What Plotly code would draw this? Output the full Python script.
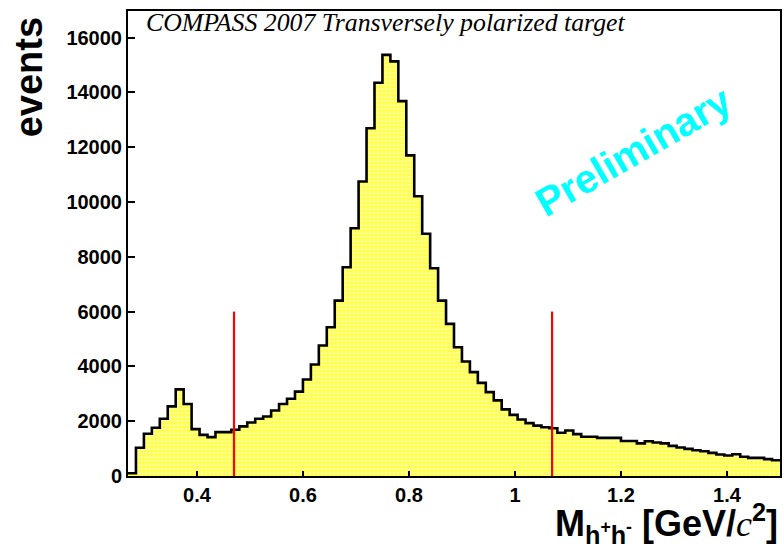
import plotly.graph_objects as go

# Invariant mass histogram of h+h- pairs, 82 bins of 0.015 GeV/c^2 from 0.27 to 1.5
bin_low = 0.27
bin_width = 0.015
counts = [
    100, 1030, 1540, 1760, 2090, 2540, 3160, 2630, 1710, 1500,
    1420, 1600, 1600, 1690, 1810, 1950, 2090, 2170, 2390, 2630,
    2820, 3080, 3520, 4070, 4760, 5430, 6400, 7620, 9040, 10750,
    12690, 14350, 15370, 15130, 13680, 11700, 10210, 8840, 7580, 6400,
    5550, 4700, 4180, 3790, 3400, 3060, 2760, 2430, 2230, 2060,
    1930, 1840, 1780, 1740, 1580, 1660, 1530, 1430, 1430, 1390,
    1390, 1390, 1280, 1280, 1190, 1270, 1220, 1190, 1100, 1040,
    990, 940, 905, 845, 785, 750, 795, 700, 660, 660,
    615, 575,
]
# Mass window cut lines (rho mass +- 0.3)
cut_positions = [0.47, 1.07]
cut_height = 6000

x_ticks = [0.4, 0.6, 0.8, 1.0, 1.2, 1.4]
x_tick_text = ["0.4", "0.6", "0.8", "1", "1.2", "1.4"]
y_ticks = [0, 2000, 4000, 6000, 8000, 10000, 12000, 14000, 16000]
y_tick_text = ["0", "2000", "4000", "6000", "8000", "10000", "12000", "14000", "16000"]

edges = [bin_low + i * bin_width for i in range(len(counts) + 1)]
step_x = edges
step_y = counts + [counts[-1]]

fig = go.Figure()
fig.add_trace(go.Scatter(
    x=step_x, y=step_y, mode="lines",
    line=dict(shape="hv", color="black", width=2.6),
    fill="tozeroy",
    fillcolor="#ffff66",
    fillpattern=dict(shape=".", bgcolor="#ffff44", fgcolor="#ffffff",
                     size=4, solidity=0.45),
    hoverinfo="skip", showlegend=False,
))
for xc in cut_positions:
    fig.add_trace(go.Scatter(
        x=[xc, xc], y=[0, cut_height], mode="lines",
        line=dict(color="#ff0000", width=2.2),
        hoverinfo="skip", showlegend=False,
    ))

tick_font = dict(family="Liberation Sans", size=20, color="black", weight="bold")
fig.update_xaxes(
    range=[0.27, 1.5], tickvals=x_ticks, ticktext=x_tick_text,
    ticks="inside", ticklen=5, tickwidth=1.5, tickcolor="black",
    showline=True, linecolor="black", linewidth=2, mirror=True,
    showgrid=False, zeroline=False, tickfont=tick_font,
)
fig.update_yaxes(
    range=[0, 16970], tickvals=y_ticks, ticktext=y_tick_text,
    ticks="inside", ticklen=7, tickwidth=1.5, tickcolor="black",
    showline=True, linecolor="black", linewidth=2, mirror=True,
    showgrid=False, zeroline=False, tickfont=tick_font,
)

W, H = 784, 550
L, R, T, B = 128, 2, 11, 74
pw, ph = W - L - R, H - T - B


def px(xp):
    return (xp - L) / pw


def py(yp):
    return (H - B - yp) / ph


annotations = [
    dict(text="COMPASS 2007 Transversely polarized target",
         x=px(144), y=py(23), xref="paper", yref="paper",
         xanchor="left", yanchor="middle", showarrow=False,
         font=dict(family="Liberation Serif", size=25.8, style="italic", color="black")),
    dict(text="<b>Preliminary</b>",
         x=px(635), y=py(151), xref="paper", yref="paper",
         xanchor="center", yanchor="middle", showarrow=False, textangle=-30,
         font=dict(family="Liberation Sans", size=40, color="#00ffff")),
    dict(text="<b>events</b>",
         x=px(29), y=py(77), xref="paper", yref="paper",
         xanchor="center", yanchor="middle", showarrow=False, textangle=-90,
         font=dict(family="Liberation Sans", size=38, color="black")),
    dict(text="<b>M<sub>h<sup>+</sup>h<sup>-</sup></sub> [GeV/</b>"
              "<span style='font-family:Liberation Serif;font-style:italic'>c</span>"
              "<b><sup>2</sup>]</b>",
         x=px(782), y=py(523.5), xref="paper", yref="paper",
         xanchor="right", yanchor="middle", showarrow=False,
         font=dict(family="Liberation Sans", size=36, color="black")),
]

fig.update_layout(
    width=W, height=H,
    margin=dict(l=L, r=R, t=T, b=B, pad=0),
    paper_bgcolor="white", plot_bgcolor="white",
    annotations=annotations,
)

fig.write_html("out.html")
